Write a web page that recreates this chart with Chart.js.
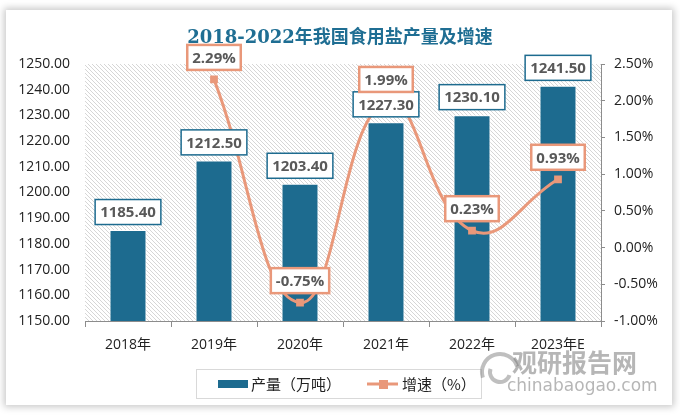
<!DOCTYPE html>
<html>
<head>
<meta charset="utf-8">
<script src="https://cdn.jsdelivr.net/npm/chart.js@4.4.0/dist/chart.umd.min.js"></script>
<style>
html, body { margin: 0; padding: 0; background: #fff; }
#wrap { position: relative; width: 680px; height: 418px; overflow: hidden; }
#card { position: absolute; left: 6px; top: 10px; width: 666px; height: 395px; background: #fff; box-shadow: 0 0 7px 2px rgba(0,0,0,0.22); }
canvas { position: absolute; left: 0; top: 0; }
</style>
</head>
<body>
<div id="wrap">
  <div id="card"></div>
  <canvas id="saltChart" width="680" height="418"></canvas>
</div>
<script>
// data
const years = ['2018年', '2019年', '2020年', '2021年', '2022年', '2023年E'];
const output = [1185.4, 1212.5, 1203.4, 1227.3, 1230.1, 1241.5];
const growth = [null, 2.29, -0.75, 1.99, 0.23, 0.93];

const BLUE = '#1d6b8f';
const ORANGE = '#e9987a';
const LABEL_FONT = 'bold 15px "Open Sans", "Liberation Sans", sans-serif';
const CJK = '"Noto Sans CJK SC", sans-serif';

// hatched plot background
function makeHatch() {
    const c = document.createElement('canvas');
    c.width = 4; c.height = 4;
    const g = c.getContext('2d');
    g.fillStyle = '#ffffff';
    g.fillRect(0, 0, 4, 4);
    g.strokeStyle = '#d6d6d6';
    g.lineWidth = 1;
    g.beginPath();
    g.moveTo(0, 0); g.lineTo(4, 4);
    g.moveTo(-1, 3); g.lineTo(1, 5);
    g.moveTo(3, -1); g.lineTo(5, 1);
    g.stroke();
    return c;
}

const hatchBg = {
    id: 'hatchBg',
    beforeDatasetsDraw(chart) {
        const { ctx, chartArea: a } = chart;
        ctx.save();
        ctx.fillStyle = ctx.createPattern(makeHatch(), 'repeat');
        ctx.fillRect(a.left, a.top, a.right - a.left, a.bottom - a.top);
        ctx.restore();
    }
};

function box(ctx, cx, cy, text, color, lw) {
    ctx.font = LABEL_FONT;
    const w = ctx.measureText(text).width + 10;
    const h = 25;
    ctx.fillStyle = '#fff';
    ctx.fillRect(cx - w / 2, cy - h / 2, w, h);
    ctx.strokeStyle = color;
    ctx.lineWidth = lw;
    ctx.strokeRect(cx - w / 2, cy - h / 2, w, h);
    ctx.fillStyle = '#595959';
    ctx.textAlign = 'center';
    ctx.textBaseline = 'middle';
    ctx.fillText(text, cx, cy + 1);
}

const valueLabels = {
    id: 'valueLabels',
    afterDatasetsDraw(chart) {
        const ctx = chart.ctx;
        ctx.save();
        chart.getDatasetMeta(0).data.forEach((el, i) => {
            box(ctx, el.x, el.y - 18, output[i].toFixed(2), BLUE, 1.5);
        });
        chart.getDatasetMeta(1).data.forEach((el, i) => {
            if (growth[i] === null) return;
            box(ctx, el.x, el.y - 22, growth[i].toFixed(2) + '%', ORANGE, 2.5);
        });
        ctx.restore();
    }
};

const extras = {
    id: 'extras',
    afterDraw(chart) {
        const ctx = chart.ctx;
        ctx.save();
        // title
        ctx.fillStyle = '#1f6e93';
        ctx.font = 'bold 18px "DejaVu Serif", "Noto Sans CJK SC", serif';
        ctx.textAlign = 'center';
        ctx.textBaseline = 'middle';
        ctx.fillText('2018-2022年我国食用盐产量及增速', 340, 38);

        // legend
        ctx.strokeStyle = '#d9d9d9';
        ctx.lineWidth = 1;
        ctx.strokeRect(196.5, 369.5, 285, 29);
        ctx.fillStyle = BLUE;
        ctx.fillRect(218, 380, 30, 8);
        ctx.fillStyle = '#222';
        ctx.font = '15px ' + CJK;
        ctx.textAlign = 'left';
        ctx.fillText('产量（万吨）', 251, 384);
        ctx.strokeStyle = ORANGE;
        ctx.lineWidth = 3;
        ctx.beginPath(); ctx.moveTo(367, 384); ctx.lineTo(398, 384); ctx.stroke();
        ctx.fillStyle = ORANGE;
        ctx.fillRect(379, 380, 9, 9);
        ctx.fillStyle = '#222';
        ctx.fillText('增速（%）', 402, 384);

        // watermark
        ctx.globalAlpha = 0.55;
        ctx.strokeStyle = '#8a8a8a';
        ctx.lineWidth = 4;
        ctx.beginPath(); ctx.arc(500, 372, 18, Math.PI * 0.9, Math.PI * 1.9); ctx.stroke();
        ctx.beginPath(); ctx.arc(500, 372, 10, Math.PI * 0.1, Math.PI * 1.1); ctx.stroke();
        ctx.fillStyle = '#7a7a7a';
        ctx.font = 'bold 25px ' + CJK;
        ctx.fillText('观研报告网', 512, 362);
        ctx.font = '17px "DejaVu Sans", sans-serif';
        ctx.fillText('chinabaogao.com', 507, 387);
        ctx.restore();
    }
};

const ctx = document.getElementById('saltChart').getContext('2d');
new Chart(ctx, {
    type: 'bar',
    data: {
        labels: years,
        datasets: [{
            label: '产量（万吨）',
            data: output,
            backgroundColor: BLUE,
            borderColor: '#ffffff',
            borderWidth: 1,
            categoryPercentage: 1,
            barPercentage: 0.43,
            yAxisID: 'y',
            order: 1
        }, {
            type: 'line',
            label: '增速（%）',
            data: growth,
            borderColor: ORANGE,
            backgroundColor: ORANGE,
            borderWidth: 3,
            tension: 0.45,
            pointStyle: 'rect',
            pointRadius: 5.5,
            pointBorderWidth: 0,
            yAxisID: 'y1',
            order: 0
        }]
    },
    options: {
        responsive: false,
        animation: false,
        layout: { padding: { top: 64, bottom: 52, left: 0, right: 0 } },
        plugins: {
            legend: { display: false },
            tooltip: { enabled: false }
        },
        scales: {
            x: {
                grid: { drawOnChartArea: false, color: '#8c8c8c', tickLength: 6 },
                border: { color: '#8c8c8c' },
                ticks: { color: '#222', font: { size: 14, family: 'Open Sans, ' + CJK }, padding: 10 },
                afterFit(s) { s.height = 45; }
            },
            y: {
                position: 'left',
                min: 1150, max: 1250,
                grid: { display: false, drawTicks: false },
                border: { display: false },
                ticks: {
                    stepSize: 10,
                    color: '#222',
                    padding: 15,
                    font: { size: 14, family: 'Open Sans' },
                    callback: v => v.toFixed(2)
                },
                afterFit(s) { s.width = 85; }
            },
            y1: {
                position: 'right',
                min: -1, max: 2.5,
                grid: { drawOnChartArea: false, color: '#8c8c8c', tickLength: 4 },
                border: { color: '#8c8c8c' },
                ticks: {
                    stepSize: 0.5,
                    color: '#222',
                    padding: 9,
                    font: { size: 14, family: 'Open Sans' },
                    callback: v => v.toFixed(2) + '%'
                },
                afterFit(s) { s.width = 79; }
            }
        }
    },
    plugins: [hatchBg, valueLabels, extras]
});
</script>
</body>
</html>
